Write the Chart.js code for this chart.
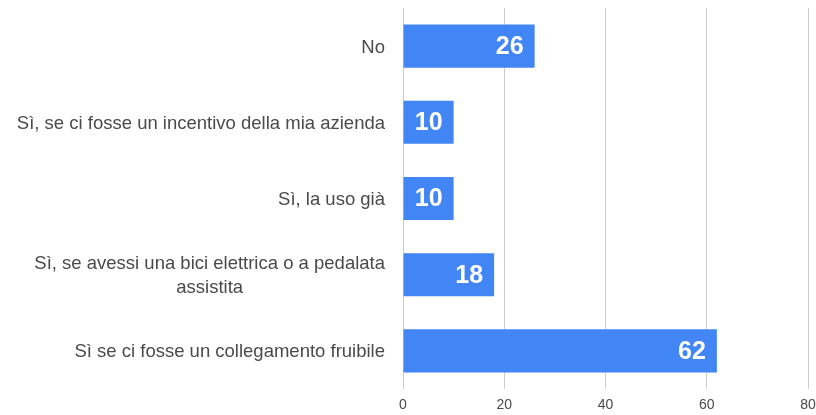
<!DOCTYPE html>
<html>
<head>
<meta charset="utf-8">
<script src="https://cdn.jsdelivr.net/npm/chart.js@4"></script>
<style>
  html, body { margin: 0; padding: 0; background: #fff; }
  #wrap { width: 816px; height: 415px; }
</style>
</head>
<body>
<div id="wrap"><canvas id="chart"></canvas></div>
<script>
const categories = [
    ['No'],
    ['Sì, se ci fosse un incentivo della mia azienda'],
    ['Sì, la uso già'],
    ['Sì, se avessi una bici elettrica o a pedalata', 'assistita'],
    ['Sì se ci fosse un collegamento fruibile']
];
const counts = [26, 10, 10, 18, 62];
const xTicks = [0, 20, 40, 60, 80];

const fontFamily = '"Liberation Sans", Arial, sans-serif';

// draws the category labels (centred lines, right-aligned block) and value labels
const labelsPlugin = {
    id: 'labels',
    afterDatasetsDraw(chart) {
        const ctx = chart.ctx;
        const yScale = chart.scales.y;
        ctx.save();
        ctx.font = '18.5px ' + fontFamily;
        ctx.fillStyle = '#4a4a4a';
        ctx.textBaseline = 'middle';
        ctx.textAlign = 'center';
        const right = yScale.right - 18;
        categories.forEach((lines, i) => {
            const cy = yScale.getPixelForValue(i) + 1.5;
            const w = Math.max(...lines.map(l => ctx.measureText(l).width));
            const cx = right - w / 2;
            const lh = 24;
            const y0 = cy - (lines.length - 1) * lh / 2;
            lines.forEach((l, j) => ctx.fillText(l, cx, y0 + j * lh));
        });

        ctx.font = 'bold 25px ' + fontFamily;
        ctx.fillStyle = '#fff';
        ctx.textAlign = 'right';
        chart.getDatasetMeta(0).data.forEach((bar, i) => {
            ctx.fillText(String(counts[i]), bar.x - 11, bar.y + 1);
        });
        ctx.restore();
    }
};

new Chart(document.getElementById('chart'), {
    type: 'bar',
    data: {
        labels: categories.map(c => c.join(' ')),
        datasets: [{
            data: counts,
            backgroundColor: '#4285F4',
            borderWidth: 0,
            categoryPercentage: 1,
            barPercentage: 0.565
        }]
    },
    options: {
        indexAxis: 'y',
        responsive: true,
        maintainAspectRatio: false,
        animation: false,
        layout: { padding: { top: 8, right: 8, bottom: 0, left: 0 } },
        plugins: {
            legend: { display: false },
            tooltip: { enabled: false }
        },
        scales: {
            x: {
                min: 0,
                max: 80,
                afterBuildTicks: axis => { axis.ticks = xTicks.map(v => ({ value: v })); },
                grid: { color: '#cccccc', drawTicks: false },
                border: { display: false },
                ticks: {
                    color: '#4a4a4a',
                    font: { size: 14, family: fontFamily },
                    padding: 8
                },
                afterFit: axis => {
                    axis.height = 26;
                    axis.paddingRight = 0;
                }
            },
            y: {
                grid: { display: false },
                border: { display: false },
                ticks: { display: false },
                afterFit: axis => { axis.width = 403; }
            }
        }
    },
    plugins: [labelsPlugin]
});
</script>
</body>
</html>
